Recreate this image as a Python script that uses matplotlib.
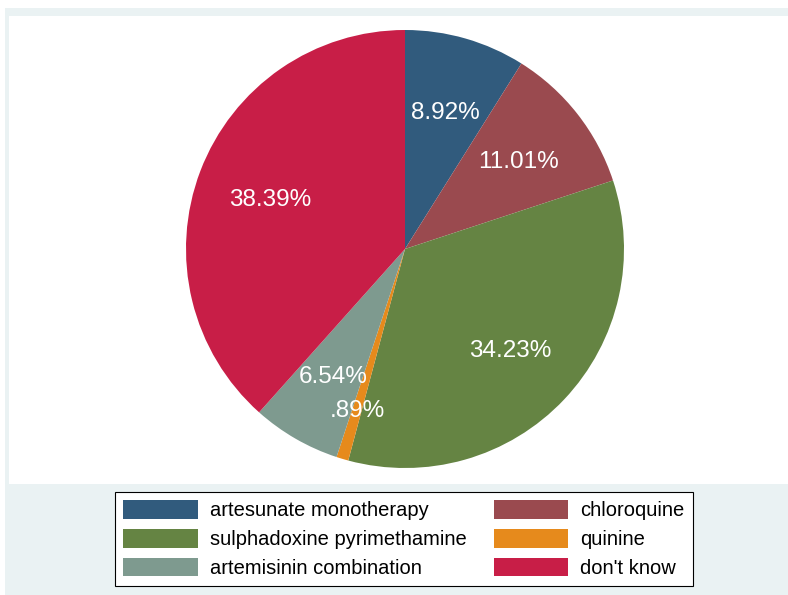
import matplotlib.pyplot as plt
import matplotlib.patches as mpatches
import numpy as np

plt.rcParams['font.family'] = ['Liberation Sans', 'DejaVu Sans']

labels = ['artesunate monotherapy', 'chloroquine', 'sulphadoxine pyrimethamine',
          'quinine', 'artemisinin combination', "don't know"]
shares = [8.92, 11.01, 34.23, 0.89, 6.54, 38.39]
colors = ['#315b7d', '#9a4a4f', '#658443', '#e68a1c', '#7e9a8f', '#c81e47']

W, H = 788, 595


def fmt_pct(p):
    s = '%.2f' % p
    if s.startswith('0'):
        s = s[1:]
    return s + '%'


def main():
    fig = plt.figure(figsize=(W / 100, H / 100), dpi=100)
    fig.patch.set_facecolor('white')

    # stata-ish gray background band
    bg = mpatches.Rectangle((5 / W, 0), 1 - 5 / W, (595 - 8) / H,
                            transform=fig.transFigure, facecolor='#eaf2f3',
                            edgecolor='none', zorder=-5)
    fig.patches.append(bg)

    # plot region (white), axes units = pixels
    ax = fig.add_axes([9 / W, (H - 484) / H, (W - 9) / W, (484 - 16) / H])
    ax.set_zorder(1)

    wedges, texts, autotexts = ax.pie(
        shares, colors=colors, startangle=90, counterclock=False,
        center=(405 - 9, 484 - 249), radius=219, autopct=lambda p: '',
        pctdistance=0.66, wedgeprops={'linewidth': 0},
        textprops={'color': 'white', 'fontsize': 17.5}, frame=True)
    # label with the table values (they don't sum to exactly 100)
    for t, v in zip(autotexts, shares):
        t.set_text(fmt_pct(v))
        t.set_va('center_baseline')
    ax.set_facecolor('white')
    ax.set_xlim(0, W - 9)
    ax.set_ylim(0, 484 - 16)
    ax.set_aspect('equal')
    for s in ax.spines.values():
        s.set_visible(False)
    ax.set_xticks([])
    ax.set_yticks([])

    # tiny slice label sits further out
    w = wedges[3]
    ang = np.deg2rad((w.theta1 + w.theta2) / 2)
    cx, cy = w.center
    autotexts[3].set_position((cx + 0.76 * w.r * np.cos(ang),
                               cy + 0.76 * w.r * np.sin(ang)))

    order = [0, 2, 4, 1, 3, 5]
    leg = fig.legend([wedges[i] for i in order], [labels[i] for i in order],
                     ncol=2, loc='center',
                     bbox_to_anchor=(404 / W, (H - 539) / H),
                     fontsize=14.5, frameon=True, fancybox=False,
                     edgecolor='black', framealpha=1, handlelength=3.7,
                     handleheight=1.05, handletextpad=0.6, columnspacing=1.35,
                     labelspacing=0.42, borderpad=0.4)
    leg.get_frame().set_linewidth(0.8)
    leg.get_frame().set_facecolor('white')

    plt.savefig('out.png', dpi=100)


if __name__ == '__main__':
    main()
